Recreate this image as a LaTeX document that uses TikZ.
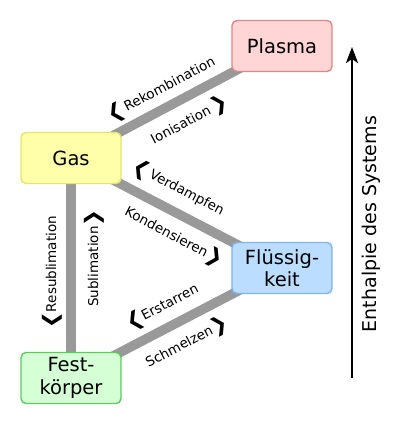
\documentclass[tikz,border=0pt]{standalone}
\usepackage{fontspec}
\setmainfont{DejaVu Sans}
\usetikzlibrary{positioning,arrows.meta,backgrounds}

\definecolor{plasmafill}{RGB}{255,213,213}
\definecolor{plasmaline}{RGB}{222,135,135}
\definecolor{gasfill}{RGB}{255,255,170}
\definecolor{gasline}{RGB}{228,228,110}
\definecolor{liqfill}{RGB}{187,221,255}
\definecolor{liqline}{RGB}{128,179,240}
\definecolor{solidfill}{RGB}{213,255,213}
\definecolor{solidline}{RGB}{95,200,95}
\definecolor{linkgray}{RGB}{153,153,153}

\newcommand{\chl}{\smash{\fontsize{20}{20}\selectfont\raisebox{-0.12ex}{❮}}}
\newcommand{\chr}{\smash{\fontsize{20}{20}\selectfont\raisebox{-0.12ex}{❯}}}

\begin{document}
\begin{tikzpicture}[
  x=1pt, y=-1pt,
  phase/.style={rectangle, rounded corners=5pt, line width=1.4pt, minimum width=100pt, minimum height=51pt, align=center, font=\fontsize{19.5}{22.5}\selectfont},
  link/.style={line width=9.5pt, draw=linkgray},
  trans/.style={sloped, inner sep=0pt, font=\fontsize{13.5}{15}\selectfont},
  axis/.style={line width=2.6pt, -{Stealth[length=16pt,width=12pt,inset=4pt]}},
  every node/.style={text=black}
]
\useasboundingbox (0,0) rectangle (400,425);

\node[phase, fill=plasmafill, draw=plasmaline] (plasma) at (282,46) {Plasma};
\node[phase, fill=gasfill, draw=gasline] (gas) at (71,158) {Gas};
\node[phase, fill=liqfill, draw=liqline] (liquid) at (282,268) {Flüssig-\\keit};
\node[phase, fill=solidfill, draw=solidline] (solid) at (71,378) {Fest-\\körper};

% transitions between the phases
\begin{scope}[on background layer]
\draw[link] (gas.center) -- node[trans, pos=0.47, above=9.5pt] {\chl\kern2pt Rekombination}
  node[trans, pos=0.51, below=12pt] {Ionisation\kern2pt\chr} (plasma.center);
\draw[link] (gas.center) -- node[trans, pos=0.46, above=11pt] {\chl\kern2pt Verdampfen}
  node[trans, pos=0.535, below=11pt] {Kondensieren\chr} (liquid.center);
\draw[link] (solid.center) -- node[trans, pos=0.48, above=12pt] {\chl Erstarren}
  node[trans, pos=0.5, below=11.5pt] {Schmelzen\chr} (liquid.center);
\draw[link] (solid.center) -- node[trans, pos=0.48, above=10pt] {\chl Resublimation}
  node[trans, pos=0.545, below=12pt] {Sublimation\chr} (gas.center);
\end{scope}

% enthalpy axis
\coordinate (low) at (352,378);
\coordinate (high) at (352,47);
\draw[axis] (low) -- node[pos=0.465, sloped, below=9pt, inner sep=0pt, font=\fontsize{19}{22}\selectfont] {Enthalpie des Systems} (high);

\end{tikzpicture}
\end{document}
